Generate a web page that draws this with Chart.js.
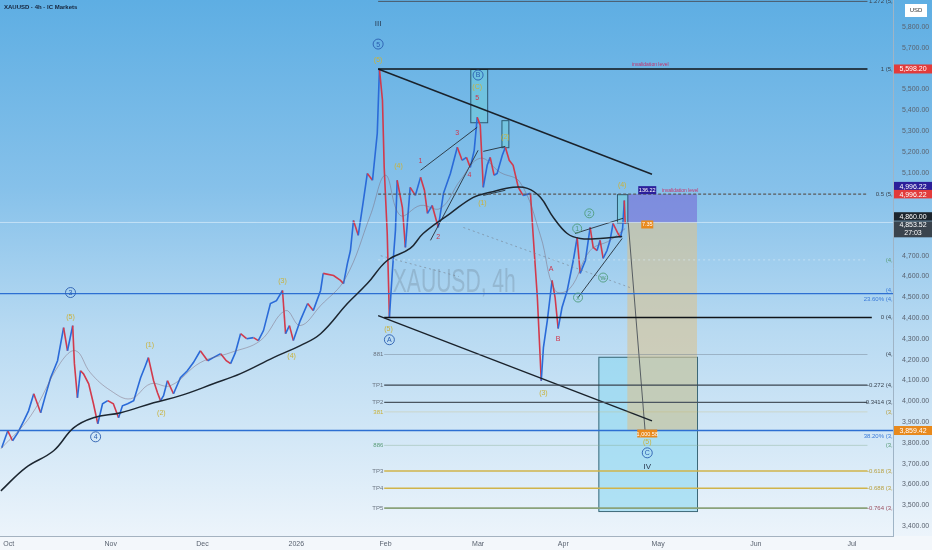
<!DOCTYPE html>
<html>
<head>
<meta charset="utf-8">
<script src="https://cdn.jsdelivr.net/npm/chart.js@4.4.1/dist/chart.umd.min.js"></script>
<style>
  html, body { margin: 0; padding: 0; background: #fff; }
  #wrap { width: 932px; height: 550px; }
</style>
</head>
<body>
<div id="wrap"><canvas id="chart" width="932" height="550"></canvas></div>
<script>
// x = trading-day index (0 = 1 Oct 2025), y = price
const monthTickDays = [0, 23.6, 44.8, 66.5, 87.1, 108.5, 128.2, 150.1, 172.7, 194.9];
const monthTickLabels = ['Oct', 'Nov', 'Dec', '2026', 'Feb', 'Mar', 'Apr', 'May', 'Jun', 'Jul'];
const priceTicks = [5800, 5700, 5600, 5500, 5400, 5300, 5200, 5100, 5000, 4700, 4600, 4500, 4400,
  4300, 4200, 4100, 4000, 3900, 3800, 3700, 3600, 3500, 3400];

const priceDays = [-1.6,-0.2,0.9,2.1,3.5,4.6,5.8,7.4,8.5,9.7,
  11.3,12.7,13.6,14.8,15.2,15.9,16.6,17.3,18.5,19.6,
  20.6,21.7,22.9,24.2,25.4,26.3,27.5,28.9,30.5,31.6,
  32.3,33.5,34.4,35.1,35.8,36.7,38.1,39.7,41.3,42.7,
  44.3,46.0,47.3,49.0,50.3,51.3,52.4,53.6,55.0,56.6,
  57.7,58.9,60.5,61.9,63.3,64.0,64.9,65.8,67.4,69.1,
  70.4,72.1,72.7,75.1,76.7,77.4,78.3,79.0,79.7,80.8,
  82.0,82.9,84.1,85.2,85.7,86.4,86.8,87.5,88.0,88.7,
  89.4,89.8,91.0,91.7,92.8,94.0,95.2,96.1,96.8,97.9,
  99.3,100.5,102.1,103.7,104.8,105.8,106.7,107.6,108.3,109.0,
  109.7,110.6,111.3,112.2,112.9,114.1,114.8,115.7,116.6,117.8,
  118.9,120.6,121.2,122.2,123.1,123.6,124.5,125.6,126.3,127.0,
  127.9,129.1,130.5,131.4,132.1,133.3,134.4,135.1,136.0,136.7,
  137.4,138.3,139.0,139.7,140.7,141.4,141.9,142.3,142.5];
const priceClose = [3776,3858,3810,3848,3906,3954,4036,3945,4027,4113,
  4195,4354,4243,4364,4181,4017,4147,4132,4084,3988,
  3892,3988,4003,3988,3921,3978,3988,4003,4113,4171,
  4210,4099,4041,4003,4027,4099,4036,4113,4147,4186,
  4243,4195,4210,4229,4195,4181,4234,4325,4301,4306,
  4292,4340,4470,4484,4533,4325,4364,4292,4388,4470,
  4436,4533,4615,4605,4581,4566,4663,4725,4870,4798,
  4966,5096,5063,5289,5598,5448,5125,4807,4403,4629,
  4822,5063,4933,4740,5029,4990,5077,5015,4904,4942,
  4836,5000,5096,5222,5159,5173,5125,5207,5366,5328,
  5029,5135,5173,5087,5096,5183,5222,5159,5135,5029,
  4990,5000,4807,4499,4099,4258,4388,4581,4499,4350,
  4451,4533,4677,4788,4615,4677,4836,4740,4725,4774,
  4687,4725,4774,4855,4812,4788,4831,4966,4853.52];

const slowMaDays = [-1.8,3.9,10.4,15.0,19.6,25.9,33.5,39.7,47.3,53.6,61.2,67.4,72.1,78.3,82.9,
  87.5,92.8,95.8,102.1,107.4,111.3,116.6,119.9,122.9,125.9,129.1,132.1,136.7,141.8];
const slowMaValues = [3569,3680,3762,3872,3921,3945,3993,4027,4084,4133,4210,4268,4325,4470,4566,
  4677,4735,4807,4904,4981,5005,5029,5024,4981,4884,4807,4783,4783,4793];

const fastMaDays = [-1.8,5.1,12.0,15.5,18.9,23.6,28.2,32.8,37.4,44.3,51.3,58.2,64.0,67.4,72.1,77.8,
  83.6,87.1,90.5,95.2,99.8,104.4,109.0,113.6,118.2,122.9,126.3,129.7,134.4,139.0,142.5];
const fastMaValues = [3771,3930,4186,4243,4137,4051,4012,4084,4075,4186,4234,4292,4436,4364,4460,4590,
  4894,5087,4894,4942,4928,5063,5169,5101,5053,4798,4533,4542,4725,4774,4831];

// horizontal levels
const levelPrices    = [5923.35, 5598.20, 4996.22, 4860.00, 4680.00, 4518.00, 4402.79, 4224.91,
  4077.64, 3994.68, 3949.00, 3859.42, 3787.98, 3664.53, 3581.85, 3486.26];
const levelStartDays = [85.4, 85.4, 85.4, -2, 85.4, -2, 86.8, 86.8, 86.8, 86.8, 86.8, -2, 86.8, 86.8, 86.8, 86.8];
const levelEndDays   = [198.5, 198.5, 198.5, 204.4, 198.5, 204.4, 199.5, 198.5, 198.5, 198.5, 198.5, 204.4, 198.5, 198.5, 198.5, 198.5];
const levelTexts = ['1.272 (5,923.35)', '1 (5,598.20)', '0.5 (5,000.50)', '', '(4,680.00)', '23.60% (4,520.84)',
  '0 (4,402.79)', '(4,224.91)', '-0.272 (4,077.64)', '-0.3414 (3,994.68)', '(3,949.20)', '38.20% (3,859.42)',
  '(3,787.98)', '-0.618 (3,664.53)', '-0.688 (3,581.85)', '-0.764 (3,486.26)'];
const levelTags = ['', '', '', '', '', '', '', '881', 'TP1', 'TP2', '381', '', '886', 'TP3', 'TP4', 'TP5'];

// trend lines: [fromDay, fromPrice, toDay, toPrice]
const trendLines = [
  [85.4, 5598, 148.7, 5092],
  [85.4, 4412, 148.7, 3906],
  [143.2, 4860, 147.1, 3859],
  [95.2, 5111, 108.3, 5318],
  [97.5, 4774, 108.5, 5207],
  [109.7, 5202, 114.8, 5226],
  [109.7, 4990, 114.8, 5015],
  [130.9, 4807, 142.0, 4880],
  [131.6, 4499, 141.8, 4783]
];
const dottedLines = [
  [105.1, 4836, 143.6, 4547],
  [86.0, 4700, 104.0, 4600]
];

// position tool + zones
const entryPrice = 4860.00, stopPrice = 4996.22, targetPrice = 3859.42;
const positionDays = [143.0, 159.1];
const zoneDays = [136.3, 159.1], zonePrices = [4214, 3472];
const waveBoxes = [[106.7, 110.6, 5598, 5342], [113.9, 115.5, 5352, 5222], [140.6, 143.0, 4996, 4860]];

// wave labels: [day, price, text, kind]
const waveLabels = [
  [85.4, 5814, 'III', 'roman'], [85.4, 5718, '5', 'circ'], [85.4, 5641, '(5)', 'yellow'],
  [108.5, 5569, 'B', 'circ'], [108.3, 5510, '(C)', 'yellow'], [108.3, 5458, '5', 'red'],
  [114.8, 5270, '(2)', 'yellow'], [103.7, 5289, '3', 'red'], [106.5, 5087, '4', 'red'],
  [95.2, 5154, '1', 'red'], [99.3, 4788, '2', 'red'], [90.1, 5130, '(4)', 'yellow'],
  [109.5, 4952, '(1)', 'yellow'], [87.8, 4349, '(5)', 'yellow'], [88.0, 4296, 'A', 'circ'],
  [125.4, 4634, 'A', 'red'], [127.0, 4301, 'B', 'red'], [123.6, 4041, '(3)', 'yellow'],
  [131.4, 4831, '1', 'gcirc'], [134.2, 4904, '2', 'gcirc'], [131.6, 4499, 'x', 'gcirc'],
  [137.4, 4595, 'w', 'gcirc'], [141.8, 5039, '(4)', 'yellow'], [147.6, 3805, '(5)', 'yellow'],
  [147.6, 3752, 'C', 'circ'], [147.6, 3684, 'IV', 'roman'],
  [14.3, 4523, '3', 'circ'], [20.1, 3829, '4', 'circ'], [14.3, 4407, '(5)', 'yellow'],
  [32.6, 4268, '(1)', 'yellow'], [35.3, 3945, '(2)', 'yellow'], [63.3, 4576, '(3)', 'yellow'],
  [65.4, 4219, '(4)', 'yellow']
];

const levelStyles = [
  ['#4a5866', 1, []], ['#101418', 1.5, []], ['#5a5a5a', 1.2, [3, 2]], ['rgba(235,245,255,0.55)', 1, []],
  ['rgba(225,240,250,0.55)', 1, [2, 3]], ['#2d6fd2', 1.3, []], ['#101418', 1.5, []], ['rgba(110,125,140,0.55)', 0.8, []],
  ['#3a4450', 1.1, []], ['#4a5560', 1.1, []], ['rgba(200,180,90,0.35)', 0.8, []], ['#2d6fd2', 1.3, []],
  ['rgba(130,170,140,0.5)', 0.8, []], ['#d0b44a', 1.6, []], ['#d0b44a', 1.6, []], ['#8aa27a', 1.6, []]
];
const labelColors = { roman: '#2a3a50', yellow: '#c9b23c', red: '#d0344a', circ: '#2a5db0', gcirc: '#4f9c7c' };
const fmt = n => n.toFixed(2).replace(/\B(?=(\d{3})+(?!\d))/g, ',');
const FONT = '"Liberation Sans", Arial, sans-serif';

Chart.defaults.font.family = FONT;

const datasets = [];
datasets.push({
  data: slowMaDays.map((d, i) => ({ x: d, y: slowMaValues[i] })),
  borderColor: '#1c2630', borderWidth: 1.5, pointRadius: 0, tension: 0.4
});
datasets.push({
  data: fastMaDays.map((d, i) => ({ x: d, y: fastMaValues[i] })),
  borderColor: 'rgba(120,95,110,0.55)', borderWidth: 0.8, pointRadius: 0, tension: 0.4
});
levelPrices.forEach((p, i) => {
  datasets.push({
    data: [{ x: levelStartDays[i], y: p }, { x: levelEndDays[i], y: p }],
    borderColor: levelStyles[i][0], borderWidth: levelStyles[i][1], borderDash: levelStyles[i][2], pointRadius: 0
  });
});
trendLines.forEach((t, i) => {
  datasets.push({
    data: [{ x: t[0], y: t[1] }, { x: t[2], y: t[3] }],
    borderColor: i < 2 ? '#1a222b' : (i === 2 ? '#4a5058' : '#25303a'),
    borderWidth: i < 2 ? 1.4 : 0.9, pointRadius: 0
  });
});
dottedLines.forEach(t => {
  datasets.push({
    data: [{ x: t[0], y: t[1] }, { x: t[2], y: t[3] }],
    borderColor: 'rgba(120,130,145,0.7)', borderWidth: 0.9, borderDash: [2, 3], pointRadius: 0
  });
});
datasets.push({
  data: priceDays.map((d, i) => ({ x: d, y: priceClose[i] })),
  borderWidth: 1.6, pointRadius: 0, tension: 0,
  segment: { borderColor: c => c.p1.parsed.y >= c.p0.parsed.y ? '#2a6ad8' : '#d23a4c' }
});

const backdrop = {
  id: 'backdrop',
  beforeDraw(chart) {
    const ctx = chart.ctx, a = chart.chartArea;
    const g = ctx.createLinearGradient(0, 0, 0, a.bottom);
    g.addColorStop(0, '#5eaee3');
    g.addColorStop(0.35, '#86c1ea');
    g.addColorStop(0.62, '#b8daf2');
    g.addColorStop(1, '#ecf4fb');
    ctx.save();
    ctx.fillStyle = g;
    ctx.fillRect(0, 0, chart.width, a.bottom);
    ctx.fillStyle = '#f3f7fb';
    ctx.fillRect(0, a.bottom, chart.width, chart.height - a.bottom);
    ctx.restore();
  }
};

function rectData(chart, d0, d1, p0, p1) {
  const x = chart.scales.x, y = chart.scales.y;
  const X0 = x.getPixelForValue(d0), X1 = x.getPixelForValue(d1);
  const Y0 = y.getPixelForValue(p0), Y1 = y.getPixelForValue(p1);
  return [Math.min(X0, X1), Math.min(Y0, Y1), Math.abs(X1 - X0), Math.abs(Y1 - Y0)];
}

const zones = {
  id: 'zones',
  beforeDatasetsDraw(chart) {
    const ctx = chart.ctx;
    ctx.save();
    // watermark
    ctx.translate(chart.scales.x.getPixelForValue(103), chart.scales.y.getPixelForValue(4570));
    ctx.scale(0.62, 1);
    ctx.font = '34px ' + FONT;
    ctx.fillStyle = 'rgba(110,130,150,0.33)';
    ctx.textAlign = 'center';
    ctx.textBaseline = 'middle';
    ctx.fillText('XAUUSD, 4h', 0, 0);
    ctx.restore();

    ctx.save();
    let r = rectData(chart, zoneDays[0], zoneDays[1], zonePrices[0], zonePrices[1]);
    ctx.fillStyle = 'rgba(140,215,240,0.6)';
    ctx.fillRect(...r);
    ctx.strokeStyle = '#3c6878';
    ctx.lineWidth = 1;
    ctx.strokeRect(r[0] + 0.5, r[1] + 0.5, r[2], r[3]);

    r = rectData(chart, positionDays[0], positionDays[1], stopPrice, entryPrice);
    ctx.fillStyle = 'rgba(118,108,214,0.62)';
    ctx.fillRect(...r);
    r = rectData(chart, positionDays[0], positionDays[1], entryPrice, targetPrice);
    ctx.fillStyle = 'rgba(214,196,150,0.62)';
    ctx.fillRect(...r);

    waveBoxes.forEach(b => {
      const q = rectData(chart, b[0], b[1], b[2], b[3]);
      ctx.fillStyle = 'rgba(110,205,215,0.5)';
      ctx.fillRect(...q);
      ctx.strokeStyle = '#2c5a72';
      ctx.strokeRect(q[0] + 0.5, q[1] + 0.5, q[2], q[3]);
    });
    ctx.restore();
  }
};

function tag(ctx, x, y, w, h, bg, text, fg) {
  ctx.fillStyle = bg;
  ctx.fillRect(x, y - h / 2, w, h);
  ctx.fillStyle = fg || '#fff';
  ctx.textAlign = 'center';
  ctx.textBaseline = 'middle';
  ctx.fillText(text, x + w / 2, y + 0.5);
}

const marks = {
  id: 'marks',
  afterDatasetsDraw(chart) {
    const ctx = chart.ctx, a = chart.chartArea;
    const X = d => chart.scales.x.getPixelForValue(d), Y = p => chart.scales.y.getPixelForValue(p);
    ctx.save();
    ctx.beginPath();
    ctx.rect(a.left, a.top, a.right - a.left, a.bottom - a.top);
    ctx.clip();

    // fib texts at right, clipped by the price axis
    ctx.font = '6px ' + FONT;
    ctx.textAlign = 'right';
    ctx.textBaseline = 'middle';
    levelTexts.forEach((t, i) => {
      if (!t) return;
      let y = Y(levelPrices[i]);
      if (i === 5) y += 6;
      if (i === 11) y += 6;
      ctx.fillStyle = (i === 5 || i === 11) ? '#3a7ad8' : (i === 10 || i === 13 || i === 14) ? '#b8a040' :
        (i === 12 || i === 4) ? '#5a9c78' : (i === 15 ? '#9a5060' : '#3a4450');
      ctx.fillText(t, a.right + 20, y);
    });
    ctx.fillStyle = '#3a7ad8';
    ctx.fillText('(4,530.12)', a.right + 20, Y(4518) - 3);

    // left tags of the target levels
    levelTags.forEach((t, i) => {
      if (!t) return;
      ctx.fillStyle = (t === '381') ? '#c9b23c' : (t === '886' ? '#5a9c78' : '#6a7480');
      ctx.fillText(t, X(86.6), Y(levelPrices[i]));
    });

    // invalidation texts
    ctx.textAlign = 'center';
    ctx.fillStyle = '#c8306a';
    ctx.font = '5px ' + FONT;
    ctx.fillText('invalidation level', X(148.3), Y(5598.2) - 4);
    ctx.fillText('invalidation level', X(155.2), Y(4996.22) - 4);

    // wave labels
    waveLabels.forEach(([d, p, t, k]) => {
      const x = X(d), y = Y(p);
      ctx.fillStyle = labelColors[k];
      ctx.strokeStyle = labelColors[k];
      ctx.textAlign = 'center';
      ctx.textBaseline = 'middle';
      if (k === 'circ' || k === 'gcirc') {
        ctx.lineWidth = 0.9;
        ctx.beginPath();
        ctx.arc(x, y, k === 'circ' ? 5 : 4.5, 0, Math.PI * 2);
        ctx.stroke();
        ctx.font = '7px ' + FONT;
        ctx.fillText(t, x, y + 0.5);
      } else if (k === 'roman') {
        ctx.font = '8px ' + FONT;
        ctx.fillText(t, x, y);
      } else {
        ctx.font = '7px ' + FONT;
        ctx.fillText(t, x, y);
      }
    });

    // position tool tags
    ctx.font = '5.5px ' + FONT;
    const pm = X(147.6);
    tag(ctx, pm - 9, Y(stopPrice) - 4, 18, 8, '#2b1f9a', '136.22');
    tag(ctx, pm - 6, Y(entryPrice) + 2, 12, 8, '#e8891c', '7.35');
    tag(ctx, pm - 10, Y(targetPrice) + 3, 20, 8, '#e8891c', '1,000.58');
    ctx.restore();
  },
  afterDraw(chart) {
    const ctx = chart.ctx, a = chart.chartArea;
    const Y = p => chart.scales.y.getPixelForValue(p);
    ctx.save();
    ctx.font = '7px ' + FONT;
    const x0 = a.right + 1, w = chart.width - x0;
    tag(ctx, x0, Y(5598.20), w, 9, '#e23b3b', fmt(5598.20));
    tag(ctx, x0, Y(4996.22) - 8, w, 8.5, '#2b1f9a', fmt(4996.22));
    tag(ctx, x0, Y(4996.22), w, 8.5, '#e23b3b', fmt(4996.22));
    tag(ctx, x0, Y(4860) - 6, w, 8.5, '#1d252d', fmt(4860));
    ctx.fillStyle = '#3a444e';
    ctx.fillRect(x0, Y(4853.52) - 2.5, w, 16);
    ctx.fillStyle = '#fff';
    ctx.textAlign = 'center';
    ctx.textBaseline = 'middle';
    ctx.fillText(fmt(4853.52), x0 + w / 2, Y(4853.52) + 1.5);
    ctx.fillText('27:03', x0 + w / 2, Y(4853.52) + 9);
    tag(ctx, x0, Y(3859.42), w, 9, '#e8891c', fmt(3859.42));

    // currency box
    ctx.fillStyle = '#ffffff';
    ctx.fillRect(905, 4, 22, 13);
    ctx.fillStyle = '#333';
    ctx.font = '6px ' + FONT;
    ctx.fillText('USD', 916, 10.5);

    // title
    ctx.textAlign = 'left';
    ctx.fillStyle = '#15233a';
    ctx.font = 'bold 6px ' + FONT;
    ctx.fillText('XAUUSD · 4h · IC Markets', 4, 7);
    ctx.restore();
  }
};

new Chart(document.getElementById('chart'), {
  type: 'line',
  data: { datasets },
  options: {
    responsive: false,
    animation: false,
    layout: { padding: 0 },
    plugins: { legend: { display: false }, tooltip: { enabled: false } },
    scales: {
      x: {
        type: 'linear', min: -2, max: 204.4,
        grid: { display: false, drawTicks: false },
        border: { display: true, color: '#a4b2c0' },
        afterBuildTicks: s => { s.ticks = monthTickDays.map(v => ({ value: v })); },
        ticks: {
          autoSkip: false, maxRotation: 0, padding: 4, color: '#5a6370', font: { size: 7 },
          callback: v => monthTickLabels[monthTickDays.indexOf(v)]
        },
        afterFit: s => { s.height = 14; s.paddingLeft = 0; s.paddingRight = 0; }
      },
      y: {
        type: 'linear', position: 'right', min: 3352, max: 5930,
        grid: { display: false, drawTicks: false },
        border: { display: true, color: '#9fb4c6' },
        afterBuildTicks: s => { s.ticks = priceTicks.map(v => ({ value: v })); },
        ticks: { autoSkip: false, padding: 9, color: '#5a6370', font: { size: 7 }, callback: v => fmt(v) },
        afterFit: s => { s.width = 39; s.paddingTop = 0; s.paddingBottom = 0; }
      }
    }
  },
  plugins: [backdrop, zones, marks]
});
</script>
</body>
</html>
